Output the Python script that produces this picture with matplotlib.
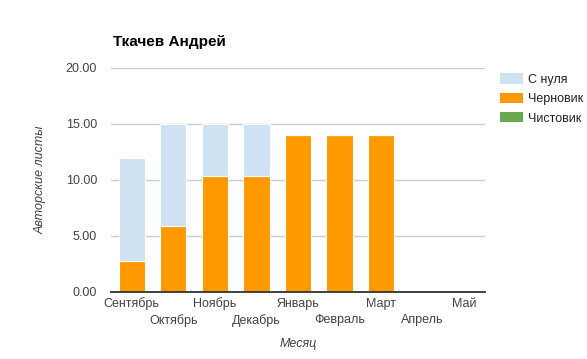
import matplotlib
matplotlib.use("Agg")
import matplotlib.pyplot as plt
import numpy as np
from matplotlib.patches import Patch

plt.rcParams['font.family'] = ['Liberation Sans', 'DejaVu Sans']

months = ["Сентябрь", "Октябрь", "Ноябрь", "Декабрь", "Январь", "Февраль", "Март", "Апрель", "Май"]
chistovik = [0, 0, 0, 0, 0, 0, 0, 0, 0]
chernovik = [2.75, 5.9, 10.4, 10.4, 14, 14, 14, 0, 0]
s_nulya = [9.25, 9.1, 4.6, 4.6, 0, 0, 0, 0, 0]
yticks = [0, 5, 10, 15, 20]

fig = plt.figure(figsize=(5.87, 3.59), dpi=100)
ax = fig.add_axes([111/587, 1-292/359, 374/587, 224/359])

x = np.arange(len(months))
w = 0.63
c_blue, c_orange, c_green = "#cfe2f3", "#ff9900", "#6aa84f"
ax.bar(x, chistovik, w, color=c_green, edgecolor="white", linewidth=0.8, zorder=3)
ax.bar(x, chernovik, w, bottom=chistovik, color=c_orange, edgecolor="white", linewidth=0.8, zorder=3)
bottom2 = np.array(chistovik) + np.array(chernovik)
ax.bar(x, s_nulya, w, bottom=bottom2, color=c_blue, edgecolor="white", linewidth=0.8, zorder=3)

ax.set_xlim(-0.5, len(months) - 0.5)
ax.set_ylim(0, 20)
ax.set_yticks(yticks)
ax.set_yticklabels([f"{v:.2f}" for v in yticks])
ax.yaxis.grid(True, color="#cccccc", linewidth=1, zorder=0)
ax.set_axisbelow(True)
for s in ["top", "right", "left"]:
    ax.spines[s].set_visible(False)
ax.spines["bottom"].set_color("#333333")
ax.spines["bottom"].set_linewidth(1.3)
ax.spines["bottom"].set_zorder(4)
ax.tick_params(axis="both", which="both", length=0, labelsize=9, colors="#444444")
ax.tick_params(axis="y", pad=10)
ax.tick_params(axis="x", which="major", pad=4)
ax.tick_params(axis="x", which="minor", pad=16)
ax.set_xticks(x[::2])
ax.set_xticklabels(months[::2])
ax.set_xticks(x[1::2], minor=True)
ax.set_xticklabels(months[1::2], minor=True)

ax.set_xlabel("Месяц", fontsize=9, style="italic", color="#444444", labelpad=8)
ax.set_ylabel("Авторские листы", fontsize=9, style="italic", color="#444444", labelpad=14)

fig.text(113/587, 1-42/359, "Ткачев Андрей", fontsize=11, fontweight="bold", color="#000000", va="center", ha="left")

handles = [Patch(facecolor=c_blue), Patch(facecolor=c_orange), Patch(facecolor=c_green)]
fig.legend(handles, ["С нуля", "Черновик", "Чистовик"], loc="upper left",
           bbox_to_anchor=(489/587, 1-62/359), frameon=False, fontsize=9,
           handlelength=1.8, handleheight=0.9, handletextpad=0.4, labelspacing=0.55,
           labelcolor="#222222")

fig.savefig("out.png", dpi=100)
